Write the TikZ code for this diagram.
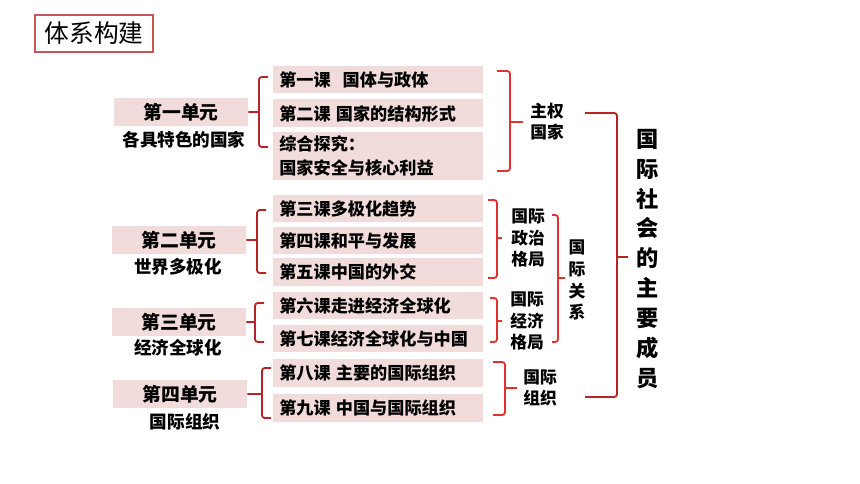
\documentclass[tikz,border=0pt]{standalone}
\usepackage{fontspec}
\newfontfamily\cjk{Noto Sans CJK SC}
\definecolor{boxpink}{RGB}{242,220,219}
\definecolor{darkbrak}{RGB}{180,36,40}
\definecolor{redbrak}{RGB}{228,48,48}
\definecolor{titleline}{RGB}{196,86,86}
\tikzset{
	lesson/.style={fill=boxpink, anchor=west, minimum width=5.25cm, minimum height=0.675cm, text width=4.95cm, align=left, inner xsep=0.15cm, inner ysep=0pt, font=\cjk\bfseries\fontsize{12.2}{17.5}\selectfont},
	unit/.style={fill=boxpink, minimum width=3.35cm, minimum height=0.7cm, inner sep=0pt, font=\cjk\bfseries\fontsize{13.4}{15}\selectfont},
	subtitle/.style={font=\cjk\bfseries\fontsize{12.5}{14}\selectfont},
	tag/.style={align=center, inner sep=0pt, font=\cjk\bfseries\fontsize{11.9}{15}\selectfont},
	lbrak/.style={draw=darkbrak, line width=1.3pt, rounded corners=2pt},
	rbrak/.style={draw=redbrak, line width=1.3pt, rounded corners=2pt}
}
\begin{document}
\begin{tikzpicture}[x=0.025cm, y=-0.025cm]
	\useasboundingbox (0,0) rectangle (860,484);
	\node[draw=titleline, line width=1pt, minimum width=2.95cm, minimum height=0.925cm, font=\cjk\fontsize{17.6}{20}\selectfont] (title) at (94,33.5) {体系构建};
	% lessons
	\node[lesson] (k1) at (273,79.5) {第一课\hspace{0.7em}国体与政体};
	\node[lesson, minimum height=0.7cm] (k2) at (273,113.5) {第二课\hspace{0.3em}国家的结构形式};
	\node[lesson, minimum height=1.2cm] (kx) at (273,156) {综合探究：\\国家安全与核心利益};
	\foreach \n/\y/\t in {k3/208.5/第三课多极化趋势, k4/240.5/第四课和平与发展, k5/272/第五课中国的外交, k6/305.5/第六课走进经济全球化, k7/338.5/第七课经济全球化与中国, k8/373/第八课\hspace{0.3em}主要的国际组织, k9/408/第九课\hspace{0.3em}中国与国际组织}
		\node[lesson] (\n) at (273,\y) {\t};
	% units
	\node[unit] (u1) at (181,112) {第一单元};
	\node[unit] (u2) at (179,240) {第二单元};
	\node[unit] (u3) at (179,322) {第三单元};
	\node[unit] (u4) at (180,394) {第四单元};
	\node[subtitle] (s1) at (184,140) {各具特色的国家};
	\node[subtitle] (s2) at (178,267) {世界多极化};
	\node[subtitle] (s3) at (178,348) {经济全球化};
	\node[subtitle] (s4) at (185,422) {国际组织};
	\foreach \u/\xv/\xh/\ya/\yb in {u1/259/268/77/147, u2/257/266/210/273, u3/255/264/303/342, u4/262/271/368/418}
		\draw[lbrak] (\xh,\ya) -- (\xv,\ya) -- (\xv,\yb) -- (\xh,\yb) (\u.east) -- (\u.east -| \xv,0);
	% right side
	\node[tag] (t1) at (547,122) {主权\\国家};
	\node[tag] (t2) at (528,238) {国际\\政治\\格局};
	\node[tag] (t3) at (527,321) {国际\\经济\\格局};
	\node[tag] (t4) at (540,388) {国际\\组织};
	\node[tag, font=\cjk\bfseries\fontsize{11.9}{15.6}\selectfont] (t5) at (577,280) {国\\际\\关\\系};
	\node[tag, font=\cjk\bfseries\fontsize{15.8}{21.3}\selectfont] (top) at (648,259) {国\\际\\社\\会\\的\\主\\要\\成\\员};
	\foreach \xh/\xv/\ya/\yb/\ym/\xt in {497/510/71/171/122/523, 488/497/200/278/238/502, 490/497/298/342/321/502, 493/505/362/415/388/517, 552/558/215/342/278/565}
		\draw[rbrak] (\xh,\ya) -- (\xv,\ya) -- (\xv,\yb) -- (\xh,\yb) (\xv,\ym) -- (\xt,\ym);
	\draw[lbrak] (585,113) -- (617,113) -- (617,397) -- (585,397) (617,257) -- (628,257);
\end{tikzpicture}
\end{document}
